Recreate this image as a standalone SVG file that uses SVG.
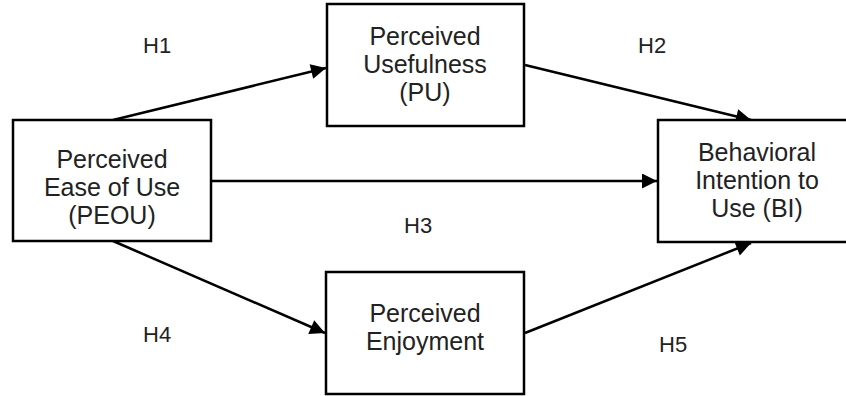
<svg xmlns="http://www.w3.org/2000/svg" width="846" height="396" viewBox="0 0 846 396">
<style>
.box{fill:#fff;stroke:#000;stroke-width:2.5}
.t{font-family:"Liberation Sans",Arial,sans-serif;font-size:25px;fill:#222;text-anchor:middle}
.h{font-family:"Liberation Sans",Arial,sans-serif;font-size:22px;fill:#222}
.c{stroke:#000;stroke-width:2.5;fill:none;marker-end:url(#ah)}
</style>
<defs>
<marker id="ah" viewBox="0 0 10 10" refX="10" refY="5" markerWidth="7" markerHeight="6" markerUnits="strokeWidth" orient="auto">
<path d="M0,0 L10,5 L0,10 z" fill="#000"/>
</marker>
</defs>
<rect width="846" height="396" fill="#fff"/>
<g id="connectors">
<line class="c" x1="113" y1="120" x2="326" y2="68"/>
<line class="c" x1="525" y1="65" x2="751" y2="120"/>
<line class="c" x1="211" y1="181" x2="657" y2="181"/>
<line class="c" x1="113" y1="241" x2="325" y2="333"/>
<line class="c" x1="525" y1="333" x2="751" y2="243"/>
</g>
<g id="peou">
<rect class="box" x="13" y="120" width="198" height="121"/>
<text class="t" x="112" y="168">Perceived</text>
<text class="t" x="112" y="196">Ease of Use</text>
<text class="t" x="112" y="224">(PEOU)</text>
</g>
<g id="pu">
<rect class="box" x="327" y="4" width="197" height="122"/>
<text class="t" x="425" y="45">Perceived</text>
<text class="t" x="425" y="73">Usefulness</text>
<text class="t" x="425" y="101">(PU)</text>
</g>
<g id="bi">
<rect class="box" x="658" y="120" width="200" height="122"/>
<text class="t" x="757" y="161">Behavioral</text>
<text class="t" x="757" y="189">Intention to</text>
<text class="t" x="757" y="217">Use (BI)</text>
</g>
<g id="pe">
<rect class="box" x="326" y="272" width="198" height="122"/>
<text class="t" x="425" y="322">Perceived</text>
<text class="t" x="425" y="350">Enjoyment</text>
</g>
<g id="labels">
<text class="h" x="143" y="53">H1</text>
<text class="h" x="638" y="53">H2</text>
<text class="h" x="404" y="233">H3</text>
<text class="h" x="143" y="342">H4</text>
<text class="h" x="659" y="352">H5</text>
</g>
</svg>
